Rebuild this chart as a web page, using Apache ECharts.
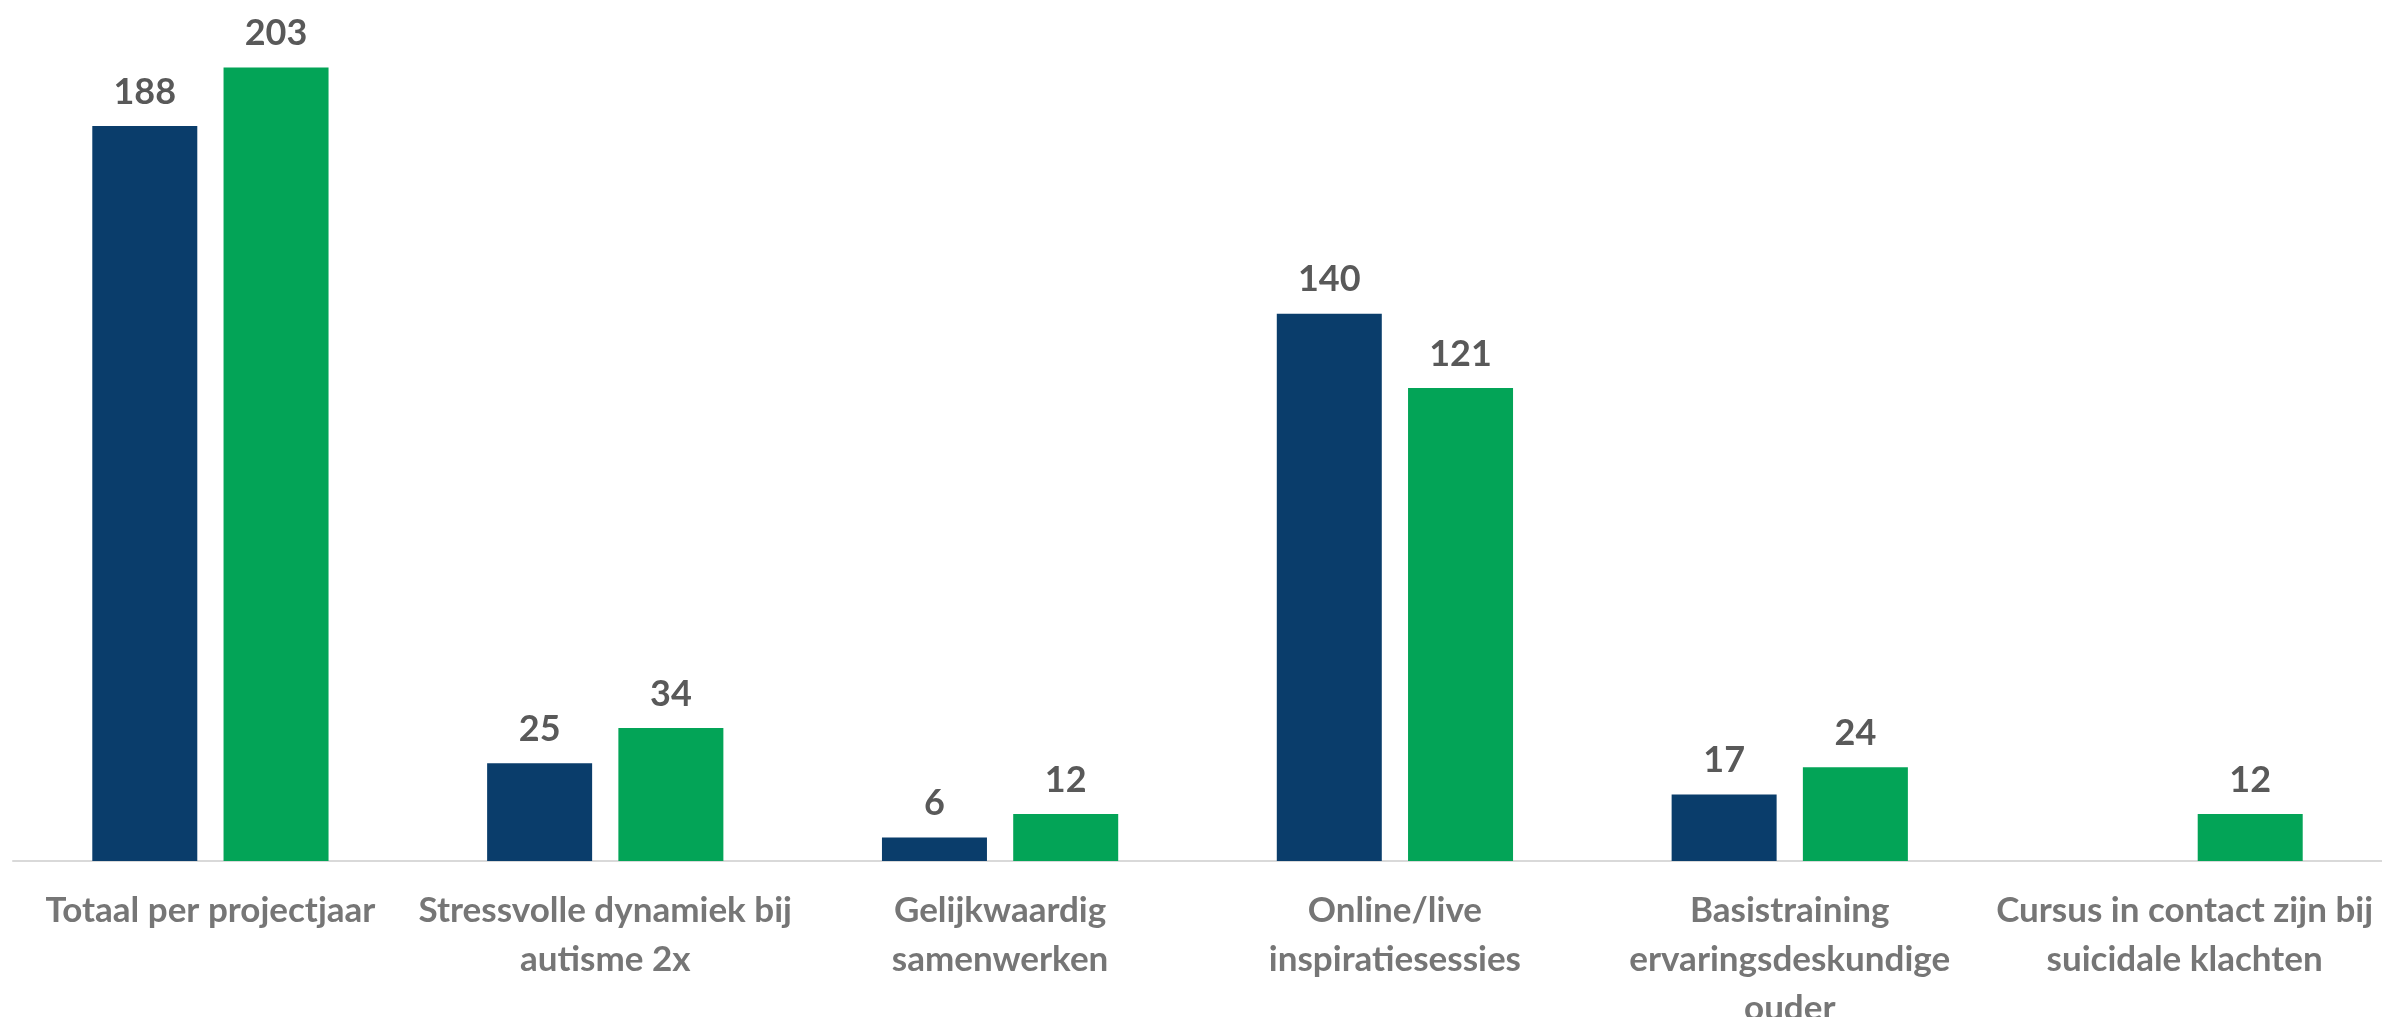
<!DOCTYPE html>
<html>
<head>
<meta charset="utf-8">
<script src="https://cdn.jsdelivr.net/npm/echarts@6/dist/echarts.min.js"></script>
<style>
html,body{margin:0;padding:0;background:#fff;}
#c{width:2382px;height:1017px;}
</style>
</head>
<body>
<div id="c"></div>
<script>
const categories = [
  "Totaal per projectjaar",
  "Stressvolle dynamiek bij\nautisme 2x",
  "Gelijkwaardig\nsamenwerken",
  "Online/live\ninspiratiesessies",
  "Basistraining\nervaringsdeskundige\nouder",
  "Cursus in contact zijn bij\nsuicidale klachten"
];
const seriesA = [188, 25, 6, 140, 17, null];
const seriesB = [203, 34, 12, 121, 24, 12];

const FONT = '"Lato", sans-serif';
const chart = echarts.init(document.getElementById('c'));
const labelStyle = {
  show: true,
  position: 'top',
  distance: 16,
  color: '#595959',
  fontFamily: FONT,
  fontWeight: 'bold',
  fontSize: 36
};
chart.setOption({
  animation: false,
  grid: { left: 13, right: 0, top: 1, bottom: 156, containLabel: false, outerBoundsMode: 'none' },
  xAxis: {
    type: 'category',
    data: categories,
    axisLine: { show: true, lineStyle: { color: '#d9d9d9', width: 2 } },
    axisTick: { show: false },
    axisLabel: {
      interval: 0,
      margin: 25,
      color: '#767676',
      fontFamily: FONT,
      fontWeight: 'bold',
      fontSize: 35,
      lineHeight: 49
    }
  },
  yAxis: {
    type: 'value',
    min: 0,
    max: 220,
    show: false,
    splitLine: { show: false }
  },
  series: [
    {
      name: 'A',
      type: 'bar',
      data: seriesA,
      barWidth: 105,
      barGap: '25%',
      itemStyle: { color: '#0a3d6b' },
      label: labelStyle
    },
    {
      name: 'B',
      type: 'bar',
      data: seriesB,
      barWidth: 105,
      barGap: '25%',
      itemStyle: { color: '#03a457' },
      label: labelStyle
    }
  ]
});
</script>
</body>
</html>
